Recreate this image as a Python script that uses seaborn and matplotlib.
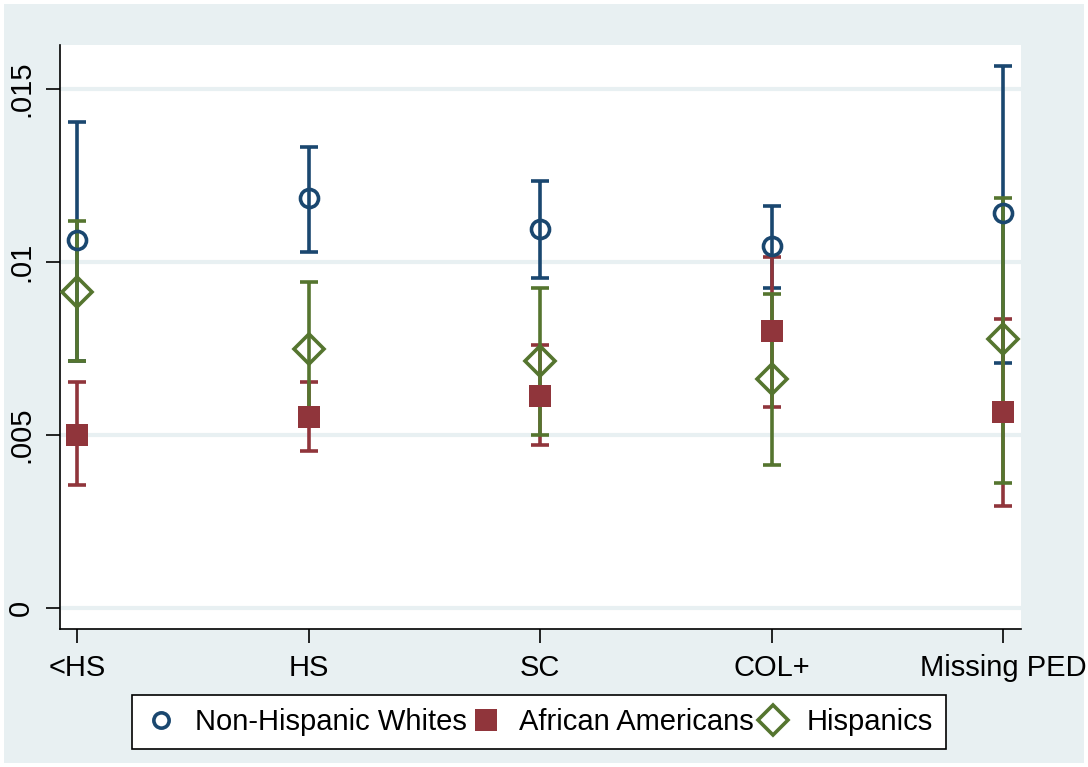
import matplotlib
matplotlib.use("Agg")
import matplotlib.pyplot as plt
from matplotlib.lines import Line2D
from matplotlib.patches import Rectangle
import numpy as np
import pandas as pd
import seaborn as sns

# Parental education categories
categories = ["<HS", "HS", "SC", "COL+", "Missing PED"]
groups = ["Non-Hispanic Whites", "African Americans", "Hispanics"]

# Point estimates and 95% confidence bounds per group
white_est = [0.01064, 0.01185, 0.01095, 0.01046, 0.01142]
white_lo = [0.00714, 0.01029, 0.00954, 0.00925, 0.00708]
white_hi = [0.01405, 0.01332, 0.01234, 0.01162, 0.01566]

black_est = [0.00500, 0.00552, 0.00613, 0.00800, 0.00566]
black_lo = [0.00355, 0.00454, 0.00471, 0.00581, 0.00295]
black_hi = [0.00653, 0.00653, 0.00760, 0.01014, 0.00835]

hisp_est = [0.00913, 0.00749, 0.00714, 0.00662, 0.00777]
hisp_lo = [0.00714, 0.00556, 0.00500, 0.00413, 0.00361]
hisp_hi = [0.01118, 0.00942, 0.00925, 0.00908, 0.01185]

yticks = [0, 0.005, 0.01, 0.015]
ytick_labels = ["0", ".005", ".01", ".015"]

colors = ["#1A476F", "#90353B", "#55752F"]
markers = ["o", "s", "D"]

# Long-form table: each (category, group) contributes its lower bound,
# estimate and upper bound; median gives the estimate, the full
# percentile interval gives the bounds.
rows = []
for grp, est, lo, hi in [
    (groups[0], white_est, white_lo, white_hi),
    (groups[1], black_est, black_lo, black_hi),
    (groups[2], hisp_est, hisp_lo, hisp_hi),
]:
    for cat, e, l, h in zip(categories, est, lo, hi):
        for v in (l, e, h):
            rows.append({"ped": cat, "group": grp, "value": v})
df = pd.DataFrame(rows)

sns.set_theme(style="white")
plt.rcParams["font.family"] = ["Liberation Sans", "DejaVu Sans"]
plt.rcParams["text.color"] = "black"
plt.rcParams["xtick.color"] = "black"
plt.rcParams["ytick.color"] = "black"

bg = "#E8F0F2"
fig = plt.figure(figsize=(10.88, 7.67), dpi=100, facecolor="white")
fig.patches.append(Rectangle((4 / 1088, 4 / 767), 1080 / 1088, 759 / 767,
                             transform=fig.transFigure, facecolor=bg,
                             edgecolor="none", zorder=-10))
ax = fig.add_axes([60 / 1088, (767 - 629) / 767, (1021 - 60) / 1088, (629 - 45) / 767])
ax.set_zorder(1)
ax.set_facecolor("white")

sns.pointplot(
    data=df, x="ped", y="value", hue="group", order=categories, hue_order=groups,
    estimator="median", errorbar=("pi", 100), palette=colors, markers=markers,
    linestyles="none", dodge=False, capsize=0.078,
    err_kws={"linewidth": 2.6}, ax=ax, legend=False,
)

# Hollow circle/diamond, solid square; markers above all interval lines
style = {
    "o": dict(ms=13, mfc="none", mew=2.6),
    "s": dict(ms=16, mew=0),
    "D": dict(ms=15, mfc="none", mew=2.6),
}
for ln in ax.lines:
    m = ln.get_marker()
    if m in style:
        s = style[m]
        ln.set_markersize(s["ms"])
        ln.set_markeredgewidth(s["mew"])
        if "mfc" in s:
            ln.set_markerfacecolor(s["mfc"])
        ln.set_zorder(4)
    else:
        ln.set_zorder(3)
        ln.set_solid_capstyle("butt")

ax.set_xlim(-0.075, 4.078)
ax.set_ylim(-0.00061, 0.01627)
ax.set_yticks(yticks)
ax.set_yticklabels(ytick_labels, rotation=90, va="center")
ax.set_xlabel("")
ax.set_ylabel("")
for y in yticks:
    ax.axhline(y, color=bg, lw=3, zorder=1)

for side in ["top", "right"]:
    ax.spines[side].set_visible(False)
for side in ["left", "bottom"]:
    ax.spines[side].set_color("black")
    ax.spines[side].set_linewidth(1.2)
ax.tick_params(axis="both", which="major", length=10, width=1.2, color="black",
               labelsize=21, labelcolor="black", direction="out", pad=8,
               left=True, bottom=True)

handles = [
    Line2D([], [], linestyle="none", marker="o", ms=11, mfc="none", mew=2.6, color=colors[0]),
    Line2D([], [], linestyle="none", marker="s", ms=16, mew=0, color=colors[1]),
    Line2D([], [], linestyle="none", marker="D", ms=15, mfc="none", mew=2.6, color=colors[2]),
]
leg = fig.legend(handles, groups, loc="center", bbox_to_anchor=(539 / 1088, 45 / 767),
                 ncol=3, frameon=True, fancybox=False, fontsize=21,
                 handlelength=1.1, handletextpad=0.6, columnspacing=0.1,
                 borderpad=0.45, borderaxespad=0)
leg.get_frame().set_edgecolor("black")
leg.get_frame().set_linewidth(1.2)
leg.get_frame().set_facecolor("white")
leg.get_frame().set_alpha(1)

fig.savefig("out.png", dpi=100, facecolor=fig.get_facecolor())
